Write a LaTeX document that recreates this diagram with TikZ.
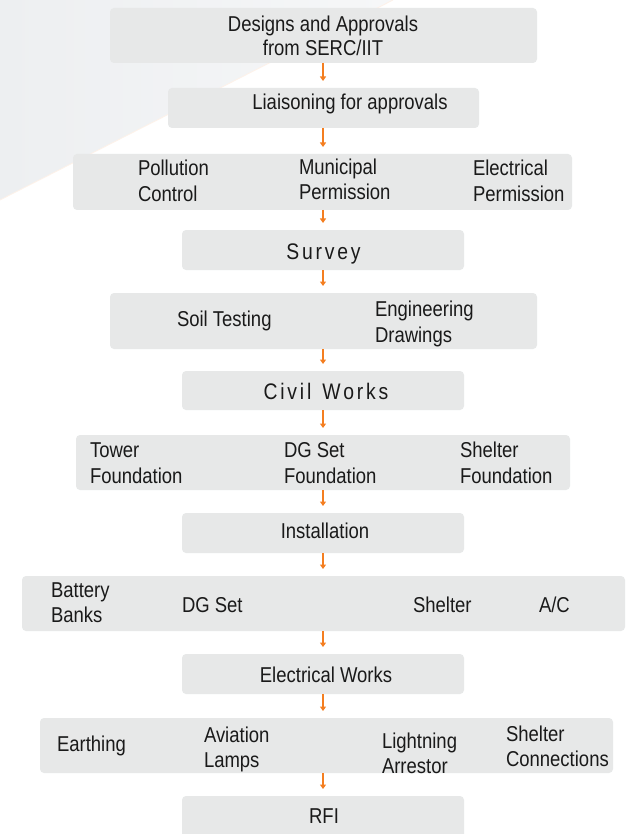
\documentclass[tikz,border=0pt]{standalone}
\usepackage{fontspec}
\setmainfont{Liberation Sans}[FakeStretch=0.86]
\usetikzlibrary{arrows.meta}
\definecolor{boxc}{HTML}{E7E8E8}
\definecolor{textc}{HTML}{1A1A1A}
\definecolor{arrc}{HTML}{F47E20}
\definecolor{bgA}{HTML}{EDEFF1}
\definecolor{bgB}{HTML}{F6F7F8}
\newcommand{\lsp}{\kern2.8pt}
\tikzset{
  box/.style={fill=boxc, rounded corners=4pt, inner sep=0pt, outer sep=0pt, draw=none},
  txt/.style={anchor=base west, inner sep=0pt, outer sep=0pt, text=textc, font=\fontsize{21.5}{26}\selectfont},
  ctxt/.style={txt, anchor=base},
  sptxt/.style={ctxt, font=\fontsize{22.5}{26}\selectfont},
  arr/.style={draw=arrc, line width=1.6pt, -{Triangle[width=6pt,length=4.5pt]}, shorten >=7pt}
}
\begin{document}
\begin{tikzpicture}[x=1pt,y=-1pt]
\useasboundingbox (0,0) rectangle (638,834);
\fill[white] (0,0) rectangle (638,834);
% background wedge
\shade[left color=bgA, right color=bgB] (0,0) -- (393,0) -- (0,200) -- cycle;
\draw[arrc!10, line width=0.8pt] (393,0) -- (0,200);
\coordinate (ax) at (323,0);
% boxes
\node[box, minimum width=427pt, minimum height=55pt] (b1) at (323.5,35.5) {};
\node[box, minimum width=311pt, minimum height=40pt] (b2) at (323.5,108) {};
\node[box, minimum width=499pt, minimum height=56pt] (b3) at (322.5,182) {};
\node[box, minimum width=282pt, minimum height=40pt] (b4) at (323,250) {};
\node[box, minimum width=427pt, minimum height=56pt] (b5) at (323.5,321) {};
\node[box, minimum width=282pt, minimum height=39pt] (b6) at (323,390.5) {};
\node[box, minimum width=494pt, minimum height=55pt] (b7) at (323,462.5) {};
\node[box, minimum width=282pt, minimum height=40pt] (b8) at (323,533) {};
\node[box, minimum width=603pt, minimum height=55pt] (b9) at (323.5,603.5) {};
\node[box, minimum width=282pt, minimum height=40pt] (b10) at (323,674) {};
\node[box, minimum width=573pt, minimum height=55pt] (b11) at (326.5,745.5) {};
\node[box, minimum width=282pt, minimum height=48pt] (b12) at (323,820) {};
% texts
\node[ctxt] (t1a) at (323,32) {Designs and Approvals};
\node[ctxt] (t1b) at (323,56) {from SERC/IIT};
\node[ctxt] (t2) at (350,110) {Liaisoning for approvals};
\node[txt] (t3a) at (138,176) {Pollution};
\node[txt] (t3b) at (138,202) {Control};
\node[txt] (t3c) at (299,175) {Municipal};
\node[txt] (t3d) at (299,200) {Permission};
\node[txt] (t3e) at (473,176) {Electrical};
\node[txt] (t3f) at (473,202) {Permission};
\node[sptxt] (t4) at (323.5,259) {S\lsp u\lsp r\lsp v\lsp e\lsp y};
\node[txt] (t5a) at (177,326) {Soil Testing};
\node[txt] (t5b) at (375,316) {Engineering};
\node[txt] (t5c) at (375,342) {Drawings};
\node[sptxt] (t6) at (326,399) {C\lsp i\lsp v\lsp i\lsp l\lsp{} \lsp W\lsp o\lsp r\lsp k\lsp s};
\node[txt] (t7a) at (90,457) {Tower};
\node[txt] (t7b) at (90,483) {Foundation};
\node[txt] (t7c) at (284,457) {DG Set};
\node[txt] (t7d) at (284,483) {Foundation};
\node[txt] (t7e) at (460,457) {Shelter};
\node[txt] (t7f) at (460,483) {Foundation};
\node[ctxt] (t8) at (325,538) {Installation};
\node[txt] (t9a) at (51,597) {Battery};
\node[txt] (t9b) at (51,622) {Banks};
\node[txt] (t9c) at (182,612) {DG Set};
\node[txt] (t9d) at (413,612) {Shelter};
\node[txt] (t9e) at (539,612) {A/C};
\node[ctxt] (t10) at (326,682) {Electrical Works};
\node[txt] (t11a) at (57,751) {Earthing};
\node[txt] (t11b) at (204,742) {Aviation};
\node[txt] (t11c) at (204,767) {Lamps};
\node[txt] (t11d) at (382,748) {Lightning};
\node[txt] (t11e) at (382,773) {Arrestor};
\node[txt] (t11f) at (506,741) {Shelter};
\node[txt] (t11g) at (506,766) {Connections};
\node[ctxt] (t12) at (324,823) {RFI};
% arrows
\draw[arr] (b1.south -| ax) -- (b2.north -| ax);
\draw[arr] (b2.south -| ax) -- (b3.north -| ax);
\draw[arr] (b3.south -| ax) -- (b4.north -| ax);
\draw[arr] (b4.south -| ax) -- (b5.north -| ax);
\draw[arr] (b5.south -| ax) -- (b6.north -| ax);
\draw[arr] (b6.south -| ax) -- (b7.north -| ax);
\draw[arr] (b7.south -| ax) -- (b8.north -| ax);
\draw[arr] (b8.south -| ax) -- (b9.north -| ax);
\draw[arr] (b9.south -| ax) -- (b10.north -| ax);
\draw[arr] (b10.south -| ax) -- (b11.north -| ax);
\draw[arr] (b11.south -| ax) -- (b12.north -| ax);
\end{tikzpicture}
\end{document}
